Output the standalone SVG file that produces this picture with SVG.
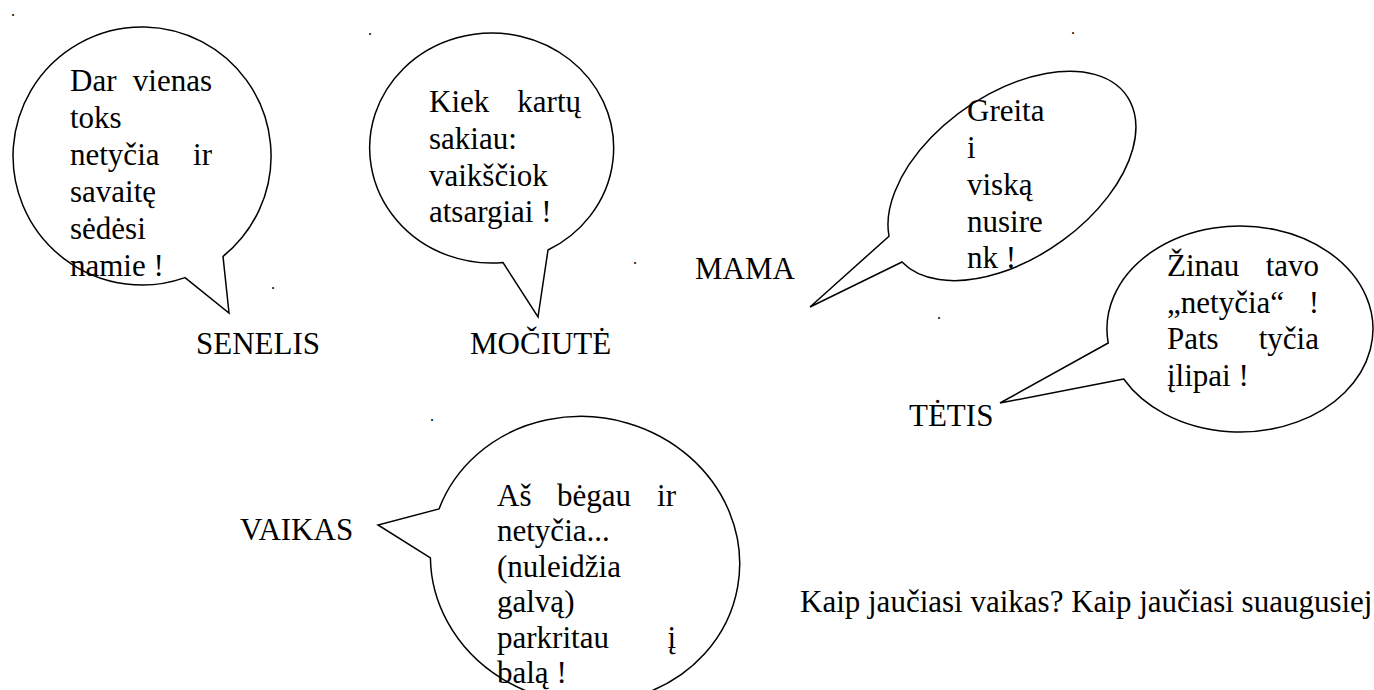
<svg xmlns="http://www.w3.org/2000/svg" width="1374" height="690" viewBox="0 0 1374 690">
<style>
.b{fill:#fff;stroke:#000;stroke-width:1.5;stroke-linejoin:miter}
.t{font-family:"Liberation Serif","Times New Roman",serif;font-size:31px;fill:#000}
.e{text-anchor:end}
.d{font-family:"Liberation Serif","Times New Roman",serif;font-size:16px;fill:#000}
</style>
<rect width="1374" height="690" fill="#fff"/>
<g id="dots">
<text class="d" x="11" y="16">.</text>
<text class="d" x="271" y="289">.</text>
<text class="d" x="368" y="35">.</text>
<text class="d" x="633" y="264">.</text>
<text class="d" x="1071" y="34">.</text>
<text class="d" x="937" y="319">.</text>
<text class="d" x="1102" y="201">.</text>
<text class="d" x="430" y="421">.</text>
</g>
<g id="senelis">
<path class="b" d="M223 256.4 L229 313 L185 277.6 A129 129 0 1 1 223 256.4 Z"/>
<text class="t" x="70" y="91">Dar</text><text class="t e" x="212" y="91">vienas</text>
<text class="t" x="70" y="128">toks</text>
<text class="t" x="70" y="165">netyčia</text><text class="t e" x="212" y="165">ir</text>
<text class="t" x="70" y="202">savaitę</text>
<text class="t" x="70" y="239">sėdėsi</text>
<text class="t" x="70" y="276">namie !</text>
<text class="t" x="196" y="354">SENELIS</text>
</g>
<g id="mociute">
<path class="b" d="M548 250 L538 317 L503 262.5 A122 115 0 1 1 548 250 Z"/>
<text class="t" x="429" y="112">Kiek</text><text class="t e" x="581" y="112">kartų</text>
<text class="t" x="429" y="149">sakiau:</text>
<text class="t" x="429" y="186">vaikščiok</text>
<text class="t" x="429" y="222">atsargiai !</text>
<text class="t" x="470" y="354">MOČIUTĖ</text>
</g>
<g id="mama">
<path class="b" d="M902 262 L810 307 L889 236.2 A140 82 -35 1 1 902 262 Z"/>
<text class="t" x="967" y="121">Greita</text>
<text class="t" x="967" y="158">i</text>
<text class="t" x="967" y="195">viską</text>
<text class="t" x="967" y="232">nusire</text>
<text class="t" x="967" y="268">nk !</text>
<text class="t" x="695" y="279">MAMA</text>
</g>
<g id="tetis">
<path class="b" d="M1123.7 379 L1000 403 L1108.2 343 A133 103 0 1 1 1123.7 379 Z"/>
<text class="t" x="1167" y="276">Žinau</text><text class="t e" x="1319" y="276">tavo</text>
<text class="t" x="1167" y="313">„netyčia“</text><text class="t e" x="1319" y="313">!</text>
<text class="t" x="1167" y="349">Pats</text><text class="t e" x="1319" y="349">tyčia</text>
<text class="t" x="1167" y="386">įlipai !</text>
<text class="t" x="909" y="426">TĖTIS</text>
</g>
<g id="vaikas">
<path class="b" d="M430.4 557.9 L378 525 L439 508.9 A155 143 10 1 1 430.4 557.9 Z"/>
<text class="t" x="497" y="506">Aš</text><text class="t" x="557" y="506">bėgau</text><text class="t e" x="676" y="506">ir</text>
<text class="t" x="497" y="541">netyčia...</text>
<text class="t" x="497" y="577">(nuleidžia</text>
<text class="t" x="497" y="612">galvą)</text>
<text class="t" x="497" y="648">parkritau</text><text class="t e" x="676" y="648">į</text>
<text class="t" x="497" y="683">balą !</text>
<text class="t" x="240" y="540">VAIKAS</text>
</g>
<g id="question">
<text class="t" x="800" y="612">Kaip jaučiasi vaikas? Kaip jaučiasi suaugusiej</text>
</g>
</svg>
